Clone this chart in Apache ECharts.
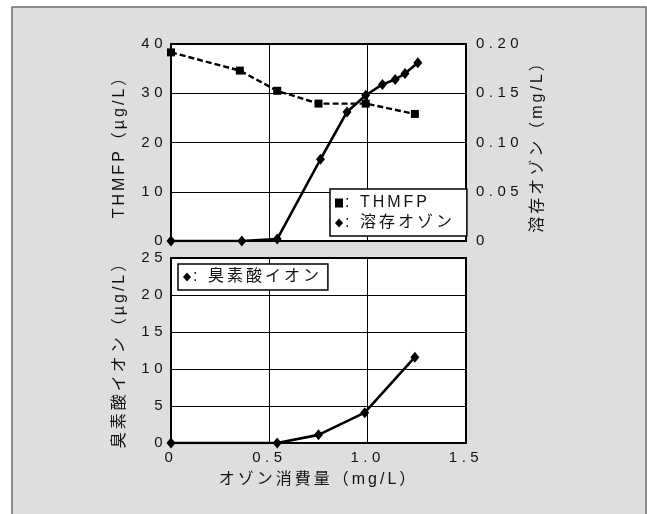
<!DOCTYPE html>
<html>
<head>
<meta charset="utf-8">
<script src="https://cdn.jsdelivr.net/npm/echarts@6/dist/echarts.min.js"></script>
<style>
  html, body { margin: 0; padding: 0; background: #ffffff; }
  #chart { width: 647px; height: 514px; }
</style>
</head>
<body>
<div id="chart"></div>
<script>
// Ozone consumption (mg/L) at each THMFP sample
const thmfpDose = [0, 0.35, 0.54, 0.75, 0.99, 1.24];
// THMFP (µg/L)
const thmfpValues = [38.3, 34.6, 30.5, 27.9, 27.9, 25.8];

// Ozone consumption (mg/L) at each dissolved-ozone sample
const ozoneDose = [0, 0.36, 0.54, 0.76, 0.895, 0.99, 1.075, 1.14, 1.19, 1.255];
// Dissolved ozone (mg/L)
const ozoneValues = [0, 0, 0.002, 0.083, 0.131, 0.148, 0.159, 0.164, 0.170, 0.181];

// Ozone consumption (mg/L) at each bromate sample
const bromateDose = [0, 0.54, 0.75, 0.985, 1.24];
// Bromate ion (µg/L)
const bromateValues = [0, 0, 1.1, 4.1, 11.6];

// Axis tick settings
const xTicks = { min: 0, max: 1.5, interval: 0.5 };
const thmfpTicks = { min: 0, max: 40, interval: 10 };
const ozoneTicks = { min: 0, max: 0.2, interval: 0.05 };
const bromateTicks = { min: 0, max: 25, interval: 5 };

const pair = (xs, ys) => xs.map((x, i) => [x, ys[i]]);

// Wide-tracked lettering: numbers are tracked a little wider than words
const NUMBER_SPACING = '4.5px';
const WORD_SPACING = '3px';
const baseFillText = CanvasRenderingContext2D.prototype.fillText;
CanvasRenderingContext2D.prototype.fillText = function (text) {
  if ('letterSpacing' in this) {
    this.letterSpacing = /^[\d.]+$/.test(String(text)) ? NUMBER_SPACING : WORD_SPACING;
  }
  return baseFillText.apply(this, arguments);
};

const FONT = "'Liberation Sans', 'Noto Sans CJK JP', sans-serif";
const numTxt = { color: '#111', fontSize: 15, fontFamily: FONT };
const txt = { color: '#111', fontSize: 16, fontFamily: FONT };

const chart = echarts.init(document.getElementById('chart'), null, { renderer: 'canvas' });

const gridLine = { show: true, lineStyle: { color: '#000', width: 1 } };
const axisLine = { show: true, lineStyle: { color: '#000', width: 2 } };

chart.setOption({
  backgroundColor: '#ffffff',
  animation: false,
  graphic: [{
    type: 'rect',
    z: -10,
    shape: { x: 12, y: 7, width: 634, height: 520 },
    style: { fill: '#dedede', stroke: '#6e6e6e', lineWidth: 1.5 }
  }],
  grid: [
    { left: 171, top: 44, width: 295, height: 197, show: true, backgroundColor: '#fff', borderColor: '#000', borderWidth: 2 },
    { left: 171, top: 258, width: 295, height: 185, show: true, backgroundColor: '#fff', borderColor: '#000', borderWidth: 2 }
  ],
  legend: [
    {
      data: [{ name: 'THMFP', icon: 'rect' }, { name: '溶存オゾン', icon: 'diamond' }],
      left: 330, top: 189, orient: 'vertical',
      itemWidth: 8, itemHeight: 9, itemGap: 4,
      padding: [6, 33, 5, 5],
      backgroundColor: '#fff', borderColor: '#000', borderWidth: 1.5, borderRadius: 0,
      formatter: n => ': ' + n,
      textStyle: Object.assign({}, txt, { padding: [0, 0, 0, -3] }),
      selectedMode: false
    },
    {
      data: [{ name: '臭素酸イオン', icon: 'diamond' }],
      left: 178, top: 264,
      itemWidth: 8, itemHeight: 9,
      padding: [5, 30, 5, 5],
      backgroundColor: '#fff', borderColor: '#000', borderWidth: 1.5, borderRadius: 0,
      formatter: n => ': ' + n,
      textStyle: Object.assign({}, txt, { padding: [0, 0, 0, -3] }),
      selectedMode: false
    }
  ],
  xAxis: [
    {
      type: 'value', gridIndex: 0, min: xTicks.min, max: xTicks.max, interval: xTicks.interval,
      axisLine: axisLine, axisTick: { show: false }, axisLabel: { show: false },
      splitLine: gridLine
    },
    {
      type: 'value', gridIndex: 1, min: xTicks.min, max: xTicks.max, interval: xTicks.interval,
      axisLine: axisLine, axisTick: { show: false },
      axisLabel: Object.assign({}, numTxt, { margin: 7, formatter: v => v === 0 ? '0' : v.toFixed(1) }),
      splitLine: gridLine,
      name: 'オゾン消費量（mg/L）', nameLocation: 'middle', nameGap: 29,
      nameTextStyle: txt
    }
  ],
  yAxis: [
    {
      type: 'value', gridIndex: 0, position: 'left',
      min: thmfpTicks.min, max: thmfpTicks.max, interval: thmfpTicks.interval,
      axisLine: axisLine, axisTick: { show: false },
      axisLabel: Object.assign({}, numTxt, { margin: 4 }),
      splitLine: gridLine,
      name: 'THMFP（µg/L）', nameLocation: 'middle', nameGap: 43, nameRotate: 90,
      nameTextStyle: txt
    },
    {
      type: 'value', gridIndex: 0, position: 'right',
      min: ozoneTicks.min, max: ozoneTicks.max, interval: ozoneTicks.interval,
      axisLine: axisLine, axisTick: { show: false },
      axisLabel: Object.assign({}, numTxt, { margin: 10, formatter: v => v === 0 ? '0' : v.toFixed(2) }),
      splitLine: { show: false },
      name: '溶存オゾン（mg/L）', nameLocation: 'middle', nameGap: 64, nameRotate: 90,
      nameTextStyle: txt
    },
    {
      type: 'value', gridIndex: 1, position: 'left',
      min: bromateTicks.min, max: bromateTicks.max, interval: bromateTicks.interval,
      axisLine: axisLine, axisTick: { show: false },
      axisLabel: Object.assign({}, numTxt, { margin: 4 }),
      splitLine: gridLine,
      name: '臭素酸イオン（µg/L）', nameLocation: 'middle', nameGap: 43, nameRotate: 90,
      nameTextStyle: txt
    }
  ],
  series: [
    {
      name: 'THMFP', type: 'line', xAxisIndex: 0, yAxisIndex: 0,
      data: pair(thmfpDose, thmfpValues),
      symbol: 'rect', symbolSize: 8,
      lineStyle: { color: '#000', width: 2.4, type: [6, 3] },
      itemStyle: { color: '#000' }, z: 3
    },
    {
      name: '溶存オゾン', type: 'line', xAxisIndex: 0, yAxisIndex: 1,
      data: pair(ozoneDose, ozoneValues),
      symbol: 'diamond', symbolSize: [9, 11],
      lineStyle: { color: '#000', width: 2.6 },
      itemStyle: { color: '#000' }, z: 4
    },
    {
      name: '臭素酸イオン', type: 'line', xAxisIndex: 1, yAxisIndex: 2,
      data: pair(bromateDose, bromateValues),
      symbol: 'diamond', symbolSize: [9, 11],
      lineStyle: { color: '#000', width: 2.6 },
      itemStyle: { color: '#000' }, z: 4
    }
  ]
});
</script>
</body>
</html>
